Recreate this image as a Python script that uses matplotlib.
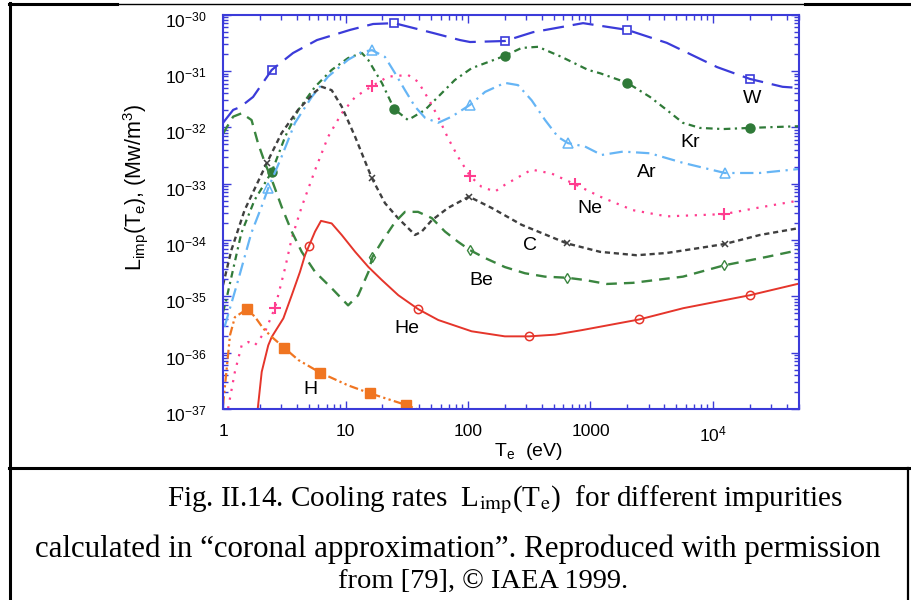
import matplotlib
matplotlib.use('Agg')
import matplotlib.pyplot as plt
import matplotlib.transforms as mtransforms
import numpy as np
from matplotlib.lines import Line2D
from matplotlib.ticker import (LogLocator, FixedLocator, FixedFormatter, NullFormatter,
                               LogFormatterSciNotation)

plt.rcParams['font.family'] = ['Liberation Sans', 'DejaVu Sans']
plt.rcParams['mathtext.fontset'] = 'custom'
plt.rcParams['mathtext.rm'] = 'Liberation Sans'
plt.rcParams['mathtext.it'] = 'Liberation Sans:italic'
plt.rcParams['mathtext.bf'] = 'Liberation Sans:bold'

# Te (eV) and log10 of L_imp (MW m^3)
W_T = [1.0, 1.21, 1.38, 1.76, 2.5, 3.73, 5.85, 10.9, 16.8, 25, 52, 86, 104, 200, 340, 870, 2000, 4200, 10800, 20000, 37000, 50000]
W_log = [-31.92, -31.69, -31.64, -31.46, -30.98, -30.68, -30.45, -30.27, -30.165, -30.15, -30.325, -30.45, -30.485, -30.467, -30.31, -30.15, -30.27, -30.50, -30.93, -31.14, -31.28, -31.30]

Kr_T = [1.0, 1.06, 1.41, 1.81, 2.5, 3.21, 4.12, 5.64, 7.71, 10.5, 13.6, 15.3, 19.8, 25, 32.4, 44.6, 56.9, 78, 107, 200, 274, 373, 582, 955, 1200, 2000, 3060, 4190, 5690, 7830, 12100, 20000, 30900, 50000]
Kr_log = [-35.28, -35.07, -33.88, -33.29, -32.79, -32.17, -31.69, -31.28, -30.98, -30.77, -30.68, -30.80, -31.21, -31.675, -31.87, -31.69, -31.46, -31.16, -30.95, -30.73, -30.59, -30.57, -30.75, -30.98, -31.04, -31.21, -31.46, -31.69, -31.92, -32.01, -32.03, -32.01, -31.995, -31.98]

Ar_T = [1.03, 1.33, 1.70, 2.07, 2.34, 3.01, 3.87, 5.3, 7.2, 10.5, 13.6, 16.5, 21, 25.4, 30.6, 36.9, 44.6, 56.9, 73.6, 104, 138, 200, 256, 331, 426, 543, 655, 902, 1233, 1842, 3060, 5690, 12500, 24000, 50000]
Ar_log = [-35.54, -34.71, -33.88, -33.40, -33.08, -32.52, -31.92, -31.46, -31.10, -30.80, -30.66, -30.63, -30.75, -31.04, -31.34, -31.63, -31.83, -31.92, -31.81, -31.60, -31.37, -31.21, -31.25, -31.52, -31.87, -32.17, -32.28, -32.34, -32.49, -32.43, -32.46, -32.63, -32.81, -32.81, -32.74]

Ne_T = [1.10, 1.25, 1.42, 1.61, 1.82, 2.2, 2.66, 3.21, 3.64, 4.39, 5.64, 7.2, 9.31, 12.0, 16.4, 22.2, 32.4, 39.1, 47.1, 56.9, 68.7, 82.8, 104, 129, 166, 200, 331, 482, 747, 1200, 2220, 4210, 12300, 22900, 50000]
Ne_log = [-36.99, -36.34, -35.87, -35.81, -35.87, -35.63, -35.20, -34.50, -33.97, -33.41, -32.76, -32.17, -31.75, -31.46, -31.27, -31.10, -31.07, -31.19, -31.48, -31.81, -32.19, -32.52, -32.865, -33.055, -33.14, -33.02, -32.75, -32.82, -33.01, -33.23, -33.47, -33.58, -33.54, -33.43, -33.30]

C_T = [1.0, 1.17, 1.5, 2.27, 3.01, 4.1, 5.64, 6.4, 7.71, 9.31, 12.0, 16.4, 21, 26.8, 34.7, 36.9, 41.9, 50.6, 68.7, 102, 156, 274, 643, 1200, 2380, 4190, 7830, 12500, 24200, 50000]
C_log = [-34.80, -34.18, -33.47, -32.64, -32.10, -31.69, -31.37, -31.28, -31.34, -31.63, -32.17, -32.90, -33.345, -33.61, -33.85, -33.91, -33.85, -33.65, -33.43, -33.23, -33.43, -33.73, -34.06, -34.21, -34.27, -34.23, -34.14, -34.07, -33.91, -33.79]

Be_T = [1.0, 1.21, 1.42, 1.71, 1.93, 2.2, 2.56, 3.01, 3.64, 4.39, 5.64, 7.71, 10.5, 12.7, 15.4, 16.6, 19.8, 25.4, 30.6, 39.1, 50.6, 64.9, 82.8, 104, 138, 200, 292, 425, 647, 902, 1356, 2220, 5690, 12300, 27400, 50000]
Be_log = [-32.11, -31.81, -31.75, -31.87, -32.28, -32.63, -32.99, -33.41, -33.85, -34.21, -34.565, -34.855, -35.16, -34.98, -34.565, -34.30, -34.03, -33.68, -33.50, -33.50, -33.61, -33.85, -34.03, -34.18, -34.32, -34.48, -34.59, -34.65, -34.67, -34.71, -34.78, -34.76, -34.65, -34.45, -34.30, -34.18]

He_T = [1.92, 2.07, 2.34, 2.5, 3.11, 3.64, 4.25, 4.67, 5.04, 5.64, 6.31, 7.71, 9.31, 12.0, 15.4, 19.8, 27, 39.4, 57.2, 107, 200, 315, 513, 848, 2500, 5720, 20000, 50000]
He_log = [-37.0, -36.34, -35.87, -35.72, -35.39, -34.98, -34.565, -34.27, -34.10, -33.85, -33.66, -33.705, -33.91, -34.21, -34.48, -34.71, -34.98, -35.23, -35.42, -35.62, -35.71, -35.71, -35.68, -35.60, -35.41, -35.21, -34.98, -34.775]

H_T = [1.0, 1.07, 1.14, 1.25, 1.56, 1.82, 2.13, 2.5, 3.15, 4.12, 6.22, 10.5, 15.8, 31.4, 38.1]
H_log = [-36.93, -36.30, -35.69, -35.37, -35.23, -35.36, -35.57, -35.72, -35.91, -36.13, -36.355, -36.58, -36.72, -36.93, -37.00]

x_ticks = [1, 10, 100, 1000, 1e4]
x_ticklabels = ['1', '10', '100', '1000', '$10^4$']
y_ticks = [1e-37, 1e-36, 1e-35, 1e-34, 1e-33, 1e-32, 1e-31, 1e-30]

fig = plt.figure(figsize=(9.11, 6.0), dpi=100)
ax = fig.add_axes([0.2448, 0.3183, 0.6318, 0.6572])

ax.plot(W_T, 10**np.array(W_log), color='#3b3bd9', lw=1.6, dashes=(9.5, 4),
        marker='s', mfc='none', ms=6, mew=1.2, markevery=[4, 9, 13, 16, 19])
ax.plot(Kr_T, 10**np.array(Kr_log), color='#2f7a38', lw=1.6, dashes=(3, 2, 1, 2),
        marker='o', ms=6.5, markevery=[4, 13, 19, 25, 31])
ax.plot(Ar_T, 10**np.array(Ar_log), color='#66b5f5', lw=1.6, dashes=(6, 2.5, 1, 2.5),
        marker='^', mfc='none', ms=6.5, mew=1.1, markevery=[4, 11, 19, 26, 32])
ax.plot(Ne_T, 10**np.array(Ne_log), color='#ff3d8f', lw=1.6, dashes=(1, 3),
        marker='+', ms=8, mew=1.5, markevery=[6, 14, 22, 28, 32])
ax.plot(C_T, 10**np.array(C_log), color='#3f3f3f', lw=1.7, dashes=(2.2, 1.6),
        marker='x', ms=5, mew=1.1, markevery=[3, 11, 19, 22, 27])
ax.plot(Be_T, 10**np.array(Be_log), color='#3a853f', lw=1.7, dashes=(4.5, 3),
        marker='d', mfc='none', ms=5, mew=1.0, markevery=[15, 23, 28, 33])
ax.plot(He_T, 10**np.array(He_log), color='#e5352b', lw=1.4,
        marker='o', mfc='none', ms=6, mew=1.1, markevery=[8, 17, 21, 24, 26])
ax.plot(H_T, 10**np.array(H_log), color='#f07521', lw=1.6, dashes=(4, 1.5, 1, 1.5, 1, 1.5),
        marker='s', ms=7, markevery=[4, 8, 10, 12, 13])

ax.set_xscale('log')
ax.set_yscale('log')
ax.set_xlim(1, 5e4)
ax.set_ylim(1e-37, 1e-30)

ax.xaxis.set_major_locator(FixedLocator(x_ticks))
ax.xaxis.set_major_formatter(FixedFormatter(x_ticklabels))
ax.xaxis.set_minor_locator(LogLocator(base=10, subs=np.arange(2, 10), numticks=100))
ax.xaxis.set_minor_formatter(NullFormatter())
ax.yaxis.set_major_locator(FixedLocator(y_ticks))
ax.yaxis.set_major_formatter(LogFormatterSciNotation())
ax.yaxis.set_minor_locator(LogLocator(base=10, subs=np.arange(2, 10), numticks=100))
ax.yaxis.set_minor_formatter(NullFormatter())

blue = '#3b3bd9'
for s in ax.spines.values():
    s.set_color(blue)
    s.set_linewidth(1.5)
ax.tick_params(which='both', direction='in', top=True, right=True, color=blue, width=1.0)
ax.tick_params(which='major', length=6, labelsize=12.5)
ax.tick_params(axis='x', which='major', pad=11)
ax.tick_params(axis='y', which='major', pad=12)
ax.tick_params(which='minor', length=3.5)

# the y labels sit a little below their ticks in the original
shift = mtransforms.ScaledTranslation(0, -4 / 100, fig.dpi_scale_trans)
for lbl in ax.get_yticklabels():
    lbl.set_transform(lbl.get_transform() + shift)

# element labels
ax.text(2.07e4, 3.27e-32, 'W', fontsize=14, ha='center', va='center')
ax.text(6490, 5.4e-33, 'Kr', fontsize=14, ha='center', va='center')
ax.text(2877, 1.6e-33, 'Ar', fontsize=14, ha='center', va='center')
ax.text(991, 3.6e-34, 'Ne', fontsize=14, ha='center', va='center')
ax.text(321, 8.1e-35, 'C', fontsize=14, ha='center', va='center')
ax.text(129, 1.95e-35, 'Be', fontsize=14, ha='center', va='center')
ax.text(31.6, 2.7e-36, 'He', fontsize=14, ha='center', va='center')
ax.text(5.13, 2.2e-37, 'H', fontsize=14, ha='center', va='center')

fig.text(135 / 911, 1 - 187 / 600, r'L$_{\mathrm{imp}}$(T$_{\mathrm{e}}$), (Mw/m$^3$)',
         rotation=90, fontsize=15.5, ha='center', va='center')
fig.text(528 / 911, 1 - 451 / 600, r'T$_{\mathrm{e}}$  (eV)', fontsize=14, ha='center', va='center')

# caption
fig.text(505 / 911, 1 - 500 / 600,
         r'Fig. II.14. Cooling rates  L$_{\mathrm{imp}}$(T$_{\mathrm{e}}$)  for different impurities',
         math_fontfamily='stix', family='Liberation Serif', fontsize=21, ha='center', va='center')
fig.text(458 / 911, 1 - 549 / 600,
         'calculated in \u201ccoronal approximation\u201d. Reproduced with permission',
         family='Liberation Serif', fontsize=22.3, ha='center', va='center')
fig.text(483 / 911, 1 - 581 / 600, 'from [79], \u00a9 IAEA 1999.',
         family='Liberation Serif', fontsize=20.5, ha='center', va='center')

# frame lines around the figure and caption
def hline(y, x0, x1, lw):
    fig.add_artist(Line2D([x0 / 911, x1 / 911], [1 - y / 600, 1 - y / 600], color='black', lw=lw))

def vline(x, y0, y1, lw):
    fig.add_artist(Line2D([x / 911, x / 911], [1 - y0 / 600, 1 - y1 / 600], color='black', lw=lw))

hline(4, 9, 117, 2.2)
hline(3.5, 117, 805, 1.0)
hline(4, 805, 911, 2.2)
hline(468, 9, 911, 2.2)
vline(10, 3, 600, 2.2)
vline(908, 468, 600, 1.6)

plt.savefig('out.png', dpi=100)
